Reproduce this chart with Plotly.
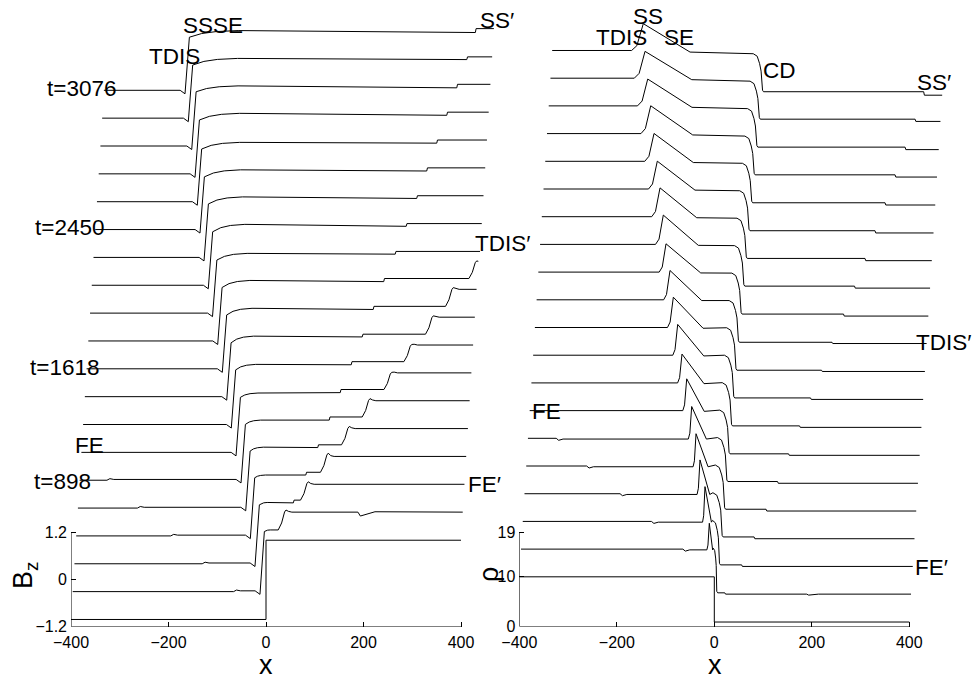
import plotly.graph_objects as go

# ---------------- data ----------------
N_TRACES = 20
X_MIN, X_MAX = -400.0, 400.0

# waterfall offsets between successive time levels
X_SHIFT = 3.55
BZ_SHIFT = 0.7134
RHO_SHIFT = 5.576

# trace 0: initial Riemann step
BZ0_LEFT, BZ0_RIGHT = -1.02, 1.01
RHO0_LEFT, RHO0_RIGHT = 10.0, 0.9

# positions shared by both panels, traces 1..19
FE_X = [-64, -132, -200, -272, -338]
SS2_X = [18, 49, 71, 92, 112, 131, 150, 169, 188, 206, 226, 245, 263, 280, 297, 314, 331, 348, 362]
NOTCH_X = 190  # small disturbance on trace 1

# B_z panel, traces 1..19
BZ_LEFT = -1.02
BZ_TDIS_X = [-15.9, -29.7, -42.8, -55.8, -69.0, -82.8, -96.0, -109.0, -121.6, -134.6,
             -148.8, -161.0, -173.3, -185.1, -194.2, -202.4, -212.7, -223.3, -233.6]
BZ_KNEE = [0.52, 0.49, 0.47, 0.44, 0.41, 0.39, 0.38, 0.36, 0.36, 0.35,
           0.34, 0.35, 0.35, 0.33, 0.33, 0.36, 0.37, 0.34, 0.34]
BZ_CURVE_W = [12, 16, 22, 27, 31, 36, 41, 46, 52, 57, 62, 66, 70, 74, 78, 82, 86, 92, 100]
BZ_PLATEAU = [0.56, 0.55, 0.54, 0.54, 0.52, 0.50, 0.52, 0.53, 0.53, 0.53,
              0.51, 0.54, 0.53, 0.51, 0.50, 0.53, 0.52, 0.51, 0.51]
BZ_PRE_STEP = [0.55, 0.54, 0.54, 0.53, 0.52, 0.51, 0.51, 0.51, 0.50, 0.50,
               0.49, 0.49, 0.49, 0.48, 0.48, 0.48, 0.47, 0.48, 0.46]
BZ_POST_STEP = [0.56, 0.61, 0.61, 0.60, 0.60, 0.59, 0.59, 0.58, 0.58, 0.58,
                0.56, 0.56, 0.56, 0.56, 0.56, 0.56, 0.56, 0.55, 0.56]
BZ_FE2_X = [37.5, 79.7, 117.1, 156.7, 195.6, 236.6, 274.0, 314.8, 352.3, 396.7]
BZ_FE2_PEAK = [1.07, 1.08, 1.10, 1.07, 1.07, 1.03, 1.03, 1.05, 1.06, 1.03]
BZ_RIGHT = 1.016

# rho panel, traces 1..19
RHO_LEFT = 10.0
RHO_PEAK_X = [-13.8, -26.2, -40.0, -51.7, -64.1, -77.9, -91.1, -103.5, -116.0, -126.4,
              -138.1, -147.2, -157.5, -166.6, -176.9, -187.2, -196.9, -206.0, -213.1]
RHO_PEAK = [15.2, 17.0, 16.8, 16.5, 16.4, 16.4, 15.8, 16.2, 16.1, 15.9,
            15.7, 15.9, 15.8, 15.6, 15.6, 15.6, 15.4, 15.4, 15.4]
RHO_RISE_W = [5, 5, 6, 6, 7, 8, 9, 10, 12, 13, 14, 16, 17, 18, 19, 20, 21, 22, 24]
RHO_SE_X = [-7, -13, -20, -27, -34, -42, -46, -50, -55, -61.3,
            -66.9, -75.4, -82.2, -89.3, -96.3, -101.1, -106.1, -110.2, -117.2]
RHO_SE = [9.85, 9.85, 9.85, 9.85, 9.85, 9.85, 9.85, 9.85, 9.85, 9.85,
          9.83, 9.81, 9.79, 9.77, 9.75, 9.73, 9.71, 9.70, 9.68]
RHO_SHOULDER = [10.2, 10.2, 10.2, 10.2, 10.15, 10.1, 10.05, 10.0, 9.95, 9.85,
                9.8, 9.75, 9.7, 9.65, 9.6, 9.5, 9.45, 9.4, 9.35]
RHO_CD_X = [1.5, 3.5, 5.5, 7, 8, 9, 10.5, 11.5, 12.5, 14, 16, 18, 19.5, 21.5, 23.5, 25, 27, 28.5, 31.5]
RHO_CD_BOTTOM = [1.2, 1.25, 1.3, 1.3, 1.3, 1.3, 1.35, 1.4, 1.4, 1.45,
                 1.55, 1.6, 1.6, 1.6, 1.65, 1.7, 1.7, 1.75, 1.7]
RHO_RIGHT = [0.94, 0.94, 0.94, 0.94, 0.95, 1.0, 1.05, 1.1, 1.15, 1.2,
             1.15, 1.2, 1.15, 1.15, 1.2, 1.25, 1.2, 1.3, 1.0]

# ---------------- profile construction ----------------
def finish(px, py, end_val):
    ox, oy = [], []
    for x, y in zip(px, py):
        if x <= X_MAX:
            ox.append(x)
            oy.append(y)
    if ox[-1] < X_MAX:
        ox.append(X_MAX)
        oy.append(end_val if end_val is not None else oy[-1])
    return ox, oy


def bz_profile(k):
    if k == 0:
        return [X_MIN, 0, 0, X_MAX], [BZ0_LEFT, BZ0_LEFT, BZ0_RIGHT, BZ0_RIGHT]
    i = k - 1
    lvl = BZ_LEFT
    px, py = [X_MIN], [lvl]
    if i < len(FE_X):
        f = FE_X[i]
        px += [f - 6, f, f + 8]
        py += [lvl, lvl + 0.04, lvl + 0.02]
        lvl += 0.02
    t, kn, pl, w = BZ_TDIS_X[i], BZ_KNEE[i], BZ_PLATEAU[i], BZ_CURVE_W[i]
    px += [t - 10, t, t + 9, t + 9 + 0.25 * w, t + 9 + 0.55 * w, t + 9 + w]
    py += [lvl, lvl - 0.09, kn, kn + 0.55 * (pl - kn), kn + 0.85 * (pl - kn), pl]
    s = SS2_X[i]
    px += [s, s + 1.5]
    py += [BZ_PRE_STEP[i], BZ_POST_STEP[i]]
    end_val = BZ_POST_STEP[i]
    if i < len(BZ_FE2_X):
        p, pk, post = BZ_FE2_X[i], BZ_FE2_PEAK[i], BZ_POST_STEP[i]
        px += [p - 16, p - 9, p - 3, p, p + 5, p + 12]
        py += [post, post + 0.35 * (pk - post), post + 0.9 * (pk - post), pk,
               BZ_RIGHT + 0.02, BZ_RIGHT]
        end_val = BZ_RIGHT
        if p + 5 > X_MAX:
            end_val = pk - 0.01
    if k == 1:
        px += [NOTCH_X - 5, NOTCH_X, NOTCH_X + 30]
        py += [BZ_RIGHT, BZ_RIGHT - 0.1, BZ_RIGHT + 0.01]
    return finish(px, py, end_val)


def rho_profile(k):
    if k == 0:
        return [X_MIN, 0, 0, X_MAX], [RHO0_LEFT, RHO0_LEFT, RHO0_RIGHT, RHO0_RIGHT]
    i = k - 1
    lvl = RHO_LEFT
    px, py = [X_MIN], [lvl]
    if i < len(FE_X):
        f = FE_X[i]
        px += [f - 4, f + 1, f + 10]
        py += [lvl, lvl - 0.4, lvl - 0.15]
        lvl -= 0.15
    pxk, pk, w = RHO_PEAK_X[i], RHO_PEAK[i], RHO_RISE_W[i]
    px += [pxk - w, pxk - 0.55 * w, pxk]
    py += [lvl, lvl + 0.18 * (pk - lvl), pk]
    se = RHO_SE_X[i]
    px.append(se)
    py.append(RHO_SE[i])
    cd, sh, bot = RHO_CD_X[i], RHO_SHOULDER[i], RHO_CD_BOTTOM[i]
    sc = min(1.0, (cd - se) / 22.0)
    px += [cd - 19 * sc, cd - 11 * sc, cd - 6 * sc, cd - 3 * sc, cd, cd + 2]
    py += [sh, sh - 0.5, sh - 2.0, sh - 3.5, bot + 0.3, bot]
    s = SS2_X[i]
    px += [s, s + 1.5]
    py += [bot, RHO_RIGHT[i]]
    if k == 1:
        px += [NOTCH_X - 4, NOTCH_X, NOTCH_X + 20]
        py += [RHO_RIGHT[i], RHO_RIGHT[i] - 0.2, RHO_RIGHT[i]]
    return finish(px, py, RHO_RIGHT[i])


# ---------------- figure ----------------
W, H = 972, 679
FONT = "Liberation Sans, Arial, Helvetica, sans-serif"
BOTTOM_PX = 626.5

fig = go.Figure()
for k in range(N_TRACES):
    x, y = bz_profile(k)
    fig.add_trace(go.Scatter(x=[v + k * X_SHIFT for v in x], y=[v + k * BZ_SHIFT for v in y],
                             mode="lines", line=dict(color="black", width=1),
                             xaxis="x", yaxis="y", hoverinfo="skip"))
    x, y = rho_profile(k)
    fig.add_trace(go.Scatter(x=[v + k * X_SHIFT for v in x], y=[v + k * RHO_SHIFT for v in y],
                             mode="lines", line=dict(color="black", width=1),
                             xaxis="x2", yaxis="y2", hoverinfo="skip"))

PX_PER_X = 0.4875
BZ_PX = 39.04
RHO_PX = 4.968
left_x0, right_x0 = 71.0, 519.3
left_x1, right_x1 = 500.0, 972.0

ydom = [(H - BOTTOM_PX) / H, 1.0]
common_x = dict(showgrid=False, zeroline=False, showline=False, ticks="inside", ticklen=5,
                tickwidth=1, tickcolor="black", tickvals=[-400, -200, 0, 200, 400],
                automargin=False, ticklabelstandoff=4,
                tickfont=dict(family=FONT, size=16, color="black"))
common_y = dict(showgrid=False, zeroline=False, showline=False, ticks="inside", ticklen=5,
                tickwidth=1, tickcolor="black", automargin=False, ticklabelstandoff=3,
                tickfont=dict(family=FONT, size=16, color="black"))

fig.update_layout(
    width=W, height=H, margin=dict(l=0, r=0, t=0, b=0, pad=0, autoexpand=False),
    paper_bgcolor="white", plot_bgcolor="white", showlegend=False,
    xaxis=dict(domain=[left_x0 / W, left_x1 / W],
               range=[-400, -400 + (left_x1 - left_x0) / PX_PER_X], **common_x),
    xaxis2=dict(domain=[right_x0 / W, right_x1 / W],
                range=[-400, -400 + (right_x1 - right_x0) / PX_PER_X], anchor="y2", **common_x),
    yaxis=dict(domain=ydom, range=[-1.2, -1.2 + BOTTOM_PX / BZ_PX],
               tickvals=[-1.2, 0, 1.2], anchor="x", **common_y),
    yaxis2=dict(domain=ydom, range=[0, BOTTOM_PX / RHO_PX],
                tickvals=[0, 10, 19], anchor="x2", **common_y),
)

# axis spines (box off, only lower-left part as in the original)
spines = [
    dict(xref="x", yref="y", x0=-400, x1=-400, y0=-1.2, y1=1.2),
    dict(xref="x", yref="y", x0=-400, x1=400, y0=-1.2, y1=-1.2),
    dict(xref="x2", yref="y2", x0=-400, x1=-400, y0=0, y1=19),
    dict(xref="x2", yref="y2", x0=-400, x1=400, y0=0, y1=0),
]
for s in spines:
    fig.add_shape(type="line", line=dict(color="black", width=1), **s)

LABEL_SIZE = 22.5
labels = [
    ("SSSE", 212.5, 26), ("SS′", 497, 20), ("TDIS", 174, 56),
    ("t=3076", 81, 89), ("t=2450", 69, 228), ("t=1618", 64, 367),
    ("FE", 89, 445), ("t=898", 62, 481), ("FE′", 484, 484), ("TDIS′", 502, 243),
    ("SS", 648, 16), ("TDIS", 621, 37.5), ("SE", 679, 37.5), ("CD", 779, 71),
    ("SS′", 934, 82), ("TDIS′", 943, 342), ("FE", 546, 411), ("FE′", 931, 567),
]
for txt, xp, yp in labels:
    fig.add_annotation(text=txt, x=xp / W, y=1 - yp / H, xref="paper", yref="paper",
                       showarrow=False, xanchor="center", yanchor="middle",
                       font=dict(family=FONT, size=LABEL_SIZE, color="black"))

titles = [
    ("x", 266, 665, 0), ("x", 715, 665, 0),
    ("B<sub>z</sub>", 25, 576, -90), ("ρ", 489, 575, -90),
]
for txt, xp, yp, ang in titles:
    fig.add_annotation(text=txt, x=xp / W, y=1 - yp / H, xref="paper", yref="paper",
                       showarrow=False, xanchor="center", yanchor="middle", textangle=ang,
                       font=dict(family=FONT, size=27, color="black"))

fig.write_html("out.html")
